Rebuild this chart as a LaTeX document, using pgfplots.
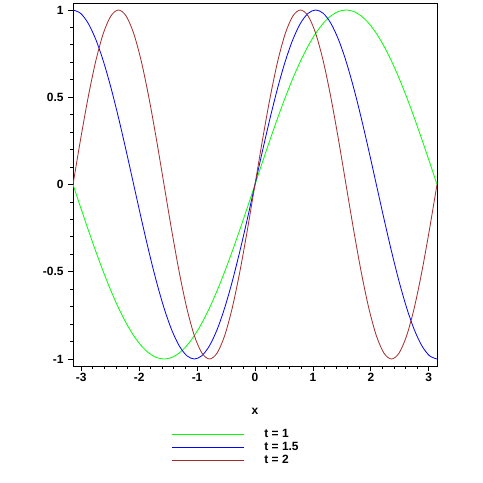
\documentclass[border=0pt]{standalone}
\usepackage{fontspec}
\setmainfont{Liberation Sans}
\usepackage{pgfplots}
\pgfplotsset{compat=1.18}
\definecolor{mgreen}{RGB}{0,255,0}
\definecolor{mblue}{RGB}{0,0,255}
\definecolor{mbrown}{RGB}{165,42,42}

\begin{document}
\begin{tikzpicture}[x=1bp,y=1bp]
  \begin{axis}[
      scale only axis,
      width=364bp, height=363bp,
      xmin=-3.1416, xmax=3.1416,
      ymin=-1.04, ymax=1.04,
      axis line style={line width=0.8bp},
      xtick={-3,-2,-1,0,1,2,3},
      ytick={-1,-0.5,0,0.5,1},
      yticklabels={-1,-0.5,0,0.5,1},
      minor x tick num=4,
      minor y tick num=4,
      xtick pos=bottom, ytick pos=left,
      tick align=outside,
      major tick length=5bp, minor tick length=3bp,
      tick style={line width=0.8bp, black},
      /pgf/number format/assume math mode=true,
      ticklabel style={font=\fontsize{12}{12}\selectfont\bfseries},
      xticklabel style={yshift=1bp},
      yticklabel style={xshift=-1bp},
      xlabel={x},
      xlabel style={at={(axis description cs:0.5,-0.124)}, anchor=center,
        font=\fontsize{12}{12}\selectfont\bfseries},
      legend cell align=left,
      legend style={at={(0.269,-0.171)}, anchor=north west, draw=none, fill=none,
        inner sep=0pt, row sep=0pt,
        font=\fontsize{12}{12}\selectfont\bfseries,
        nodes={inner sep=0.5bp, text height=9bp, text depth=3bp},
        /tikz/every odd column/.style={column sep=20bp}},
      legend image code/.code={\draw[#1, line width=0.8bp] (0bp,0bp) -- (72bp,0bp);},
      every axis plot/.append style={line width=0.8bp, smooth, mark=none},
    ]
    % t = 1
    \addplot[mgreen] coordinates {
      (-3.1416,0) (-3.0107,-0.1305) (-2.8798,-0.2588) (-2.7489,-0.3827)
      (-2.6180,-0.5) (-2.4871,-0.6088) (-2.3562,-0.7071) (-2.2253,-0.7934)
      (-2.0944,-0.8660) (-1.9635,-0.9239) (-1.8326,-0.9659) (-1.7017,-0.9914)
      (-1.5708,-1) (-1.4399,-0.9914) (-1.3090,-0.9659) (-1.1781,-0.9239)
      (-1.0472,-0.8660) (-0.9163,-0.7934) (-0.7854,-0.7071) (-0.6545,-0.6088)
      (-0.5236,-0.5) (-0.3927,-0.3827) (-0.2618,-0.2588) (-0.1309,-0.1305)
      (0,0) (0.1309,0.1305) (0.2618,0.2588) (0.3927,0.3827)
      (0.5236,0.5) (0.6545,0.6088) (0.7854,0.7071) (0.9163,0.7934)
      (1.0472,0.8660) (1.1781,0.9239) (1.3090,0.9659) (1.4399,0.9914)
      (1.5708,1) (1.7017,0.9914) (1.8326,0.9659) (1.9635,0.9239)
      (2.0944,0.8660) (2.2253,0.7934) (2.3562,0.7071) (2.4871,0.6088)
      (2.6180,0.5) (2.7489,0.3827) (2.8798,0.2588) (3.0107,0.1305)
      (3.1416,0)
    };
    % t = 1.5
    \addplot[mblue] coordinates {
      (-3.1416,1) (-3.0107,0.9808) (-2.8798,0.9239) (-2.7489,0.8315)
      (-2.6180,0.7071) (-2.4871,0.5556) (-2.3562,0.3827) (-2.2253,0.1951)
      (-2.0944,0) (-1.9635,-0.1951) (-1.8326,-0.3827) (-1.7017,-0.5556)
      (-1.5708,-0.7071) (-1.4399,-0.8315) (-1.3090,-0.9239) (-1.1781,-0.9808)
      (-1.0472,-1) (-0.9163,-0.9808) (-0.7854,-0.9239) (-0.6545,-0.8315)
      (-0.5236,-0.7071) (-0.3927,-0.5556) (-0.2618,-0.3827) (-0.1309,-0.1951)
      (0,0) (0.1309,0.1951) (0.2618,0.3827) (0.3927,0.5556)
      (0.5236,0.7071) (0.6545,0.8315) (0.7854,0.9239) (0.9163,0.9808)
      (1.0472,1) (1.1781,0.9808) (1.3090,0.9239) (1.4399,0.8315)
      (1.5708,0.7071) (1.7017,0.5556) (1.8326,0.3827) (1.9635,0.1951)
      (2.0944,0) (2.2253,-0.1951) (2.3562,-0.3827) (2.4871,-0.5556)
      (2.6180,-0.7071) (2.7489,-0.8315) (2.8798,-0.9239) (3.0107,-0.9808)
      (3.1416,-1)
    };
    % t = 2
    \addplot[mbrown] coordinates {
      (-3.1416,0) (-3.0107,0.2588) (-2.8798,0.5) (-2.7489,0.7071)
      (-2.6180,0.8660) (-2.4871,0.9659) (-2.3562,1) (-2.2253,0.9659)
      (-2.0944,0.8660) (-1.9635,0.7071) (-1.8326,0.5) (-1.7017,0.2588)
      (-1.5708,0) (-1.4399,-0.2588) (-1.3090,-0.5) (-1.1781,-0.7071)
      (-1.0472,-0.8660) (-0.9163,-0.9659) (-0.7854,-1) (-0.6545,-0.9659)
      (-0.5236,-0.8660) (-0.3927,-0.7071) (-0.2618,-0.5) (-0.1309,-0.2588)
      (0,0) (0.1309,0.2588) (0.2618,0.5) (0.3927,0.7071)
      (0.5236,0.8660) (0.6545,0.9659) (0.7854,1) (0.9163,0.9659)
      (1.0472,0.8660) (1.1781,0.7071) (1.3090,0.5) (1.4399,0.2588)
      (1.5708,0) (1.7017,-0.2588) (1.8326,-0.5) (1.9635,-0.7071)
      (2.0944,-0.8660) (2.2253,-0.9659) (2.3562,-1) (2.4871,-0.9659)
      (2.6180,-0.8660) (2.7489,-0.7071) (2.8798,-0.5) (3.0107,-0.2588)
      (3.1416,0)
    };
    \legend{t = 1, t = 1.5, t = 2}
  \end{axis}
  \path (current axis.south west) ++(-73bp,-117bp) rectangle ++(483bp,483bp);
\end{tikzpicture}
\end{document}
